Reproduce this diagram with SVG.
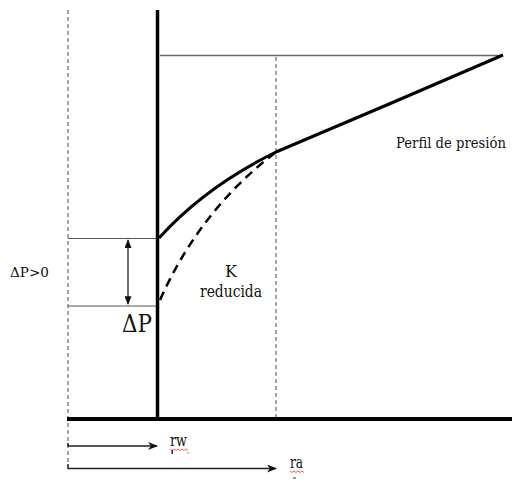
<svg xmlns="http://www.w3.org/2000/svg" width="512" height="482" viewBox="0 0 512 482">
<defs>
<style>
.thin{stroke:#555;stroke-width:1;fill:none}
.dash{stroke:#777;stroke-width:1.3;stroke-dasharray:4 3;fill:none}
.thick{stroke:#000;stroke-width:3.5;fill:none}
.arr{stroke:#222;stroke-width:1.5;fill:none}
.sq{stroke:#e33;stroke-width:0.8;fill:none}
</style>
<marker id="ah" viewBox="0 0 10 8" refX="9" refY="4" markerWidth="10" markerHeight="8" markerUnits="userSpaceOnUse" orient="auto">
<path d="M0,0 L10,4 L0,8 L3,4 z" fill="#111"/>
</marker>
<marker id="dh" viewBox="0 0 10 8" refX="9" refY="4" markerWidth="9" markerHeight="7" markerUnits="userSpaceOnUse" orient="auto-start-reverse">
<path d="M0,0 L10,4 L0,8 z" fill="#111"/>
</marker>
</defs>
<rect width="512" height="482" fill="#fff"/>
<g id="guides">
<path class="dash" d="M68,10 V466"/>
<path class="dash" d="M276,57 V418"/>
<path class="thin" d="M160,55.5 H503" style="stroke:#666;stroke-width:1.4"/>
<path class="thin" d="M68,238.5 H157"/>
<path class="thin" d="M68,306 H157"/>
</g>
<g id="axes">
<path class="thick" d="M157.5,10 V419" style="stroke-width:3.5"/>
<path class="thick" d="M67,419 H512" style="stroke-width:4"/>
</g>
<g id="curves">
<path d="M159,238 Q205,187 276,152 Q390,104 503,55" stroke="#000" stroke-width="3" fill="none"/>
<path d="M160,300 Q200,210 276,152" stroke="#000" stroke-width="2.5" stroke-dasharray="9 6" fill="none"/>
</g>
<g id="connectors">
<path class="arr" d="M128,240 V304" style="stroke-width:1.3" marker-start="url(#dh)" marker-end="url(#dh)"/>
<path class="arr" d="M68,443 V446 H157" marker-end="url(#ah)"/>
<path class="arr" d="M68,464 V468.5 H276" marker-end="url(#ah)"/>
</g>
<g id="labels" font-family="DejaVu Serif, serif" fill="#111">
<text x="10" y="277" font-size="13" textLength="39" lengthAdjust="spacingAndGlyphs">ΔP&gt;0</text>
<text x="122" y="332" font-size="25" textLength="30" lengthAdjust="spacingAndGlyphs">ΔP</text>
<text x="231" y="277" font-size="16" text-anchor="middle">K</text>
<text x="231" y="297" font-size="16" text-anchor="middle" textLength="62" lengthAdjust="spacingAndGlyphs">reducida</text>
<text x="396" y="148" font-size="15" textLength="110" lengthAdjust="spacingAndGlyphs">Perfil de presión</text>
<text x="170" y="446" font-size="16" textLength="17" lengthAdjust="spacingAndGlyphs">rw</text>
<text x="290" y="468" font-size="16" textLength="13" lengthAdjust="spacingAndGlyphs">ra</text>
</g>
<g id="marks">
<path class="sq" d="M170,449 l2,1.5 l2,-1.5 l2,1.5 l2,-1.5 l2,1.5 l2,-1.5 l2,1.5 l2,-1.5 l2,1.5"/>
<path class="sq" d="M290,471 l2,1.5 l2,-1.5 l2,1.5 l2,-1.5 l2,1.5 l2,-1.5 l2,1.5"/>
<rect x="171.5" y="450" width="1.5" height="4" fill="#223"/>
<rect x="187.5" y="452" width="1.5" height="1.5" fill="#8ab"/>
<rect x="293" y="477" width="3" height="2" fill="#999"/>
</g>
</svg>
